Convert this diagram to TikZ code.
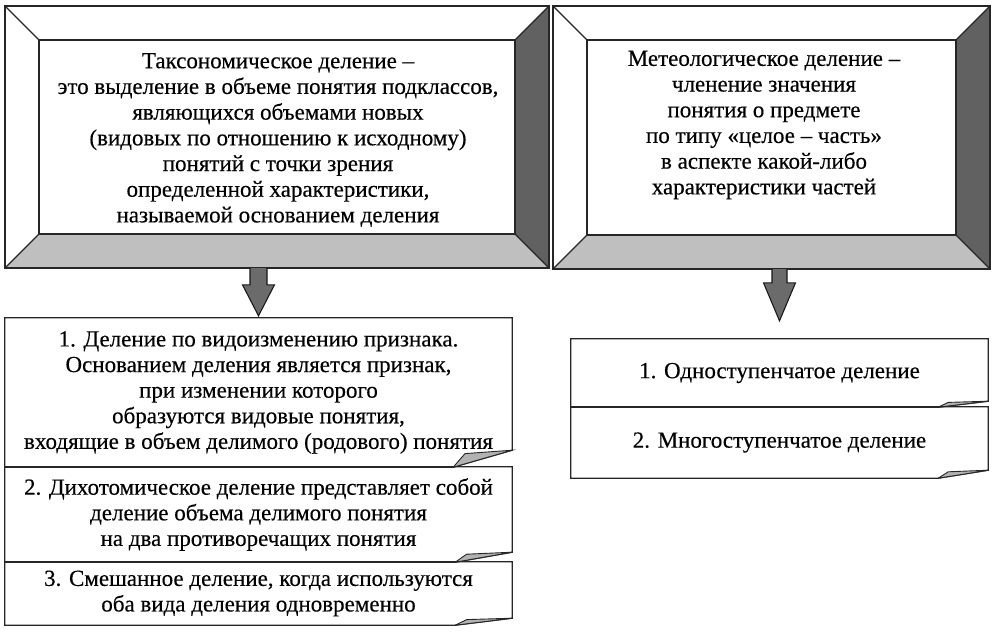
\documentclass[tikz,border=0pt]{standalone}
\usepackage{fontspec}
\setmainfont{Liberation Serif}[FakeBold=0.35]
\usetikzlibrary{calc}
\tikzset{
  frameline/.style={draw=black!85, line width=1.6pt, line join=miter},
  diagline/.style={draw=black!85, line width=1.1pt},
  bevlight/.style={fill=white},
  bevdark/.style={fill=black!62},
  bevmid/.style={fill=black!25},
  innerbox/.style={draw=none, inner sep=0pt, rectangle},
  txt/.style={align=center, inner sep=0pt, font=\fontsize{23}{25.7}\selectfont},
  boxnode/.style={draw=none, rectangle, inner sep=0pt, align=center, font=\fontsize{23}{25.6}\selectfont},
  boxline/.style={draw=black!85, line width=1.3pt, line join=miter},
  foldfill/.style={fill=black!30, draw=black!85, line width=0.9pt},
  blockarrow/.style={fill=black!58, draw=black!90, line width=1.1pt, line join=miter}
}
\newcommand\mybevel[2]{%
  \coordinate (#1-otl) at ([xshift=-#2pt,yshift=#2pt]#1.north west);
  \coordinate (#1-otr) at ([xshift=#2pt,yshift=#2pt]#1.north east);
  \coordinate (#1-obr) at ([xshift=#2pt,yshift=-#2pt]#1.south east);
  \coordinate (#1-obl) at ([xshift=-#2pt,yshift=-#2pt]#1.south west);
  \fill[bevlight] (#1-otl) -- (#1.north west) -- (#1.south west) -- (#1-obl) -- cycle;
  \fill[bevlight] (#1-otl) -- (#1-otr) -- (#1.north east) -- (#1.north west) -- cycle;
  \fill[bevdark] (#1-otr) -- (#1-obr) -- (#1.south east) -- (#1.north east) -- cycle;
  \fill[bevmid] (#1-obl) -- (#1.south west) -- (#1.south east) -- (#1-obr) -- cycle;
  \draw[diagline] (#1-otl) -- (#1.north west);
  \draw[diagline] (#1-obl) -- (#1.south west);
  \draw[diagline] (#1-otr) -- (#1.north east);
  \draw[diagline] (#1-obr) -- (#1.south east);
  \draw[frameline] (#1-otl) rectangle (#1-obr);
  \draw[frameline] (#1.north west) rectangle (#1.south east);
}
\newcommand\foldbox[3]{%
  \draw[boxline] (#1.north west) -- (#1.north east) -- ([yshift=#3pt]#1.south east)
     -- ([xshift=-#2pt]#1.south east) -- (#1.south west) -- cycle;
  \filldraw[foldfill] ([xshift=-#2pt]#1.south east)
     -- ([xshift={-0.8*#2pt}, yshift={0.8*#3pt}]#1.south east)
     -- ([yshift=#3pt]#1.south east) -- cycle;
}
\begin{document}
\begin{tikzpicture}[x=1pt,y=-1pt]
\useasboundingbox (0,0) rectangle (997,633);
% top frames
\node[innerbox, minimum width=476pt, minimum height=194pt] (lf) at (277,137) {};
\mybevel{lf}{34}
\node[txt] (lft) at (278,140) {Таксономическое деление –\\
это выделение в объеме понятия подклассов,\\
являющихся объемами новых\\
(видовых по отношению к исходному)\\
понятий с точки зрения\\
определенной характеристики,\\
называемой основанием деления};
\node[innerbox, minimum width=369pt, minimum height=195pt] (rf) at (771.5,137.5) {};
\mybevel{rf}{34}
\node[txt] (rft) at (764,125) {Метеологическое деление –\\
членение значения\\
понятия о предмете\\
по типу «целое – часть»\\
в аспекте какой-либо\\
характеристики частей};
% left column boxes
\node[boxnode, minimum width=507pt, minimum height=149pt] (l1) at (258.5,392.5) {1. Деление по видоизменению признака.\\
Основанием деления является признак,\\
при изменении которого\\
образуются видовые понятия,\\
входящие в объем делимого (родового) понятия};
\node[boxnode, minimum width=507pt, minimum height=95pt] (l2) at (258.5,514.5) {2. Дихотомическое деление представляет собой\\
деление объема делимого понятия\\
на два противоречащих понятия};
\node[boxnode, minimum width=507pt, minimum height=63pt] (l3) at (258.5,593.5) {3. Смешанное деление, когда используются\\
оба вида деления одновременно};
\foldbox{l1}{59}{17}
\foldbox{l2}{57}{10}
\foldbox{l3}{57}{7}
% right column boxes
\node[boxnode, minimum width=417pt, minimum height=68pt] (r1) at (779.5,373) {1. Одноступенчатое деление};
\node[boxnode, minimum width=417pt, minimum height=71pt] (r2) at (779.5,442.5) {2. Многоступенчатое деление};
\foldbox{r1}{50}{6}
\foldbox{r2}{50}{8}
% block arrows
\coordinate (la-s) at (l1.north |- lf-obl);
\coordinate (la-t) at ([yshift=2pt]l1.north);
\draw[blockarrow] ($(la-s)+(-8.5,0)$) -- ($(la-t)+(-8.5,-31)$) -- ($(la-t)+(-16,-31)$) -- (la-t)
  -- ($(la-t)+(16,-31)$) -- ($(la-t)+(8.5,-31)$) -- ($(la-s)+(8.5,0)$);
\coordinate (ra-s) at (r1.north |- rf-obl);
\coordinate (ra-t) at ([yshift=18pt]r1.north);
\draw[blockarrow] ($(ra-s)+(-7.5,0)$) -- ($(ra-t)+(-7.5,-38)$) -- ($(ra-t)+(-16,-38)$) -- (ra-t)
  -- ($(ra-t)+(16,-38)$) -- ($(ra-t)+(7.5,-38)$) -- ($(ra-s)+(7.5,0)$);
\end{tikzpicture}
\end{document}
